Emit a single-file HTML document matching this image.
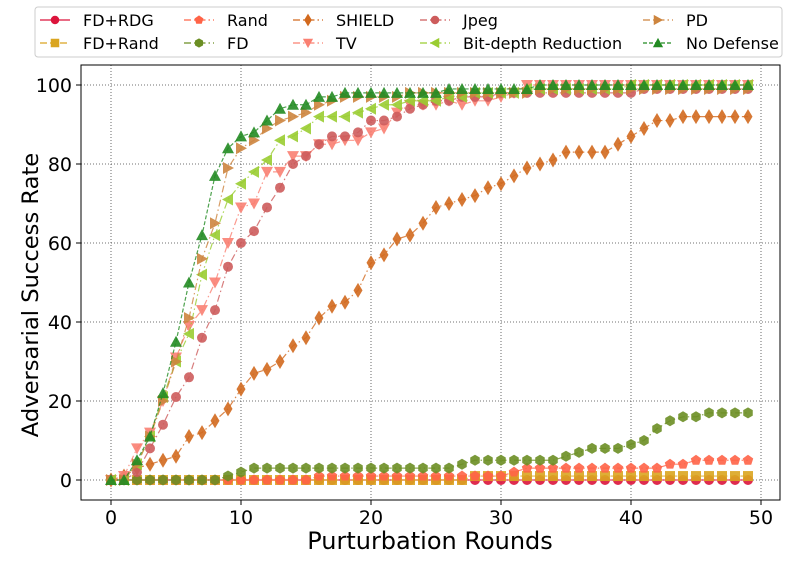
<!DOCTYPE html>
<html><head><meta charset="utf-8"><style>
body{margin:0;background:#fff;font-family:"Liberation Sans","DejaVu Sans",sans-serif}
svg text{font-family:"DejaVu Sans","Liberation Sans",sans-serif}
</style></head><body>
<svg id="chart" width="786" height="561" xmlns="http://www.w3.org/2000/svg"></svg>
<script>
const rounds = Array.from({length:50},(_,i)=>i);
const xTicks = [0,10,20,30,40,50];
const yTicks = [0,20,40,60,80,100];
const fdRdg = [0,0,0,0,0,0,0,0,0,0,0,0,0,0,0,0,0,0,0,0,0,0,0,0,0,0,0,0,0,0,0,0,0,0,0,0,0,0,0,0,0,0,0,0,0,0,0,0,0,0];
const fdRand = [0,0,0,0,0,0,0,0,0,0,0,0,0,0,0,0,0,0,0,0,0,0,0,0,0,0,0,0,1,1,1,1,1,1,1,1,1,1,1,1,1,1,1,1,1,1,1,1,1,1];
const rand = [0,0,0,0,0,0,0,0,0,0,0,0,0,0,0,0,1,1,1,1,1,1,1,1,1,1,1,1,1,1,1,2,3,3,3,3,3,3,3,3,3,3,3,4,4,5,5,5,5,5];
const fd = [0,0,0,0,0,0,0,0,0,1,2,3,3,3,3,3,3,3,3,3,3,3,3,3,3,3,3,4,5,5,5,5,5,5,5,6,7,8,8,8,9,10,13,15,16,16,17,17,17,17];
const shield = [0,1,3,4,5,6,11,12,15,18,23,27,28,30,34,36,41,44,45,48,55,57,61,62,65,69,70,71,72,74,75,77,79,80,81,83,83,83,83,85,87,89,91,91,92,92,92,92,92,92];
const tv = [0,1,8,12,20,31,39,43,50,60,69,70,78,78,82,82,85,85,86,86,88,89,93,95,95,95,96,95,96,96,97,98,100,100,100,100,100,100,100,100,100,100,100,100,100,100,100,100,100,100];
const jpeg = [0,0,2,8,14,21,26,36,43,54,60,63,69,74,80,82,85,87,87,88,91,91,92,94,95,96,96,97,97,97,98,98,98,98,98,98,98,98,98,98,98,99,99,99,99,99,99,99,99,99];
const bitDepth = [0,0,4,11,21,30,37,52,62,71,75,78,81,86,87,89,92,92,92,93,94,95,95,96,96,96,97,97,98,98,98,98,99,99,99,99,99,99,99,99,100,100,100,100,100,100,100,100,100,100];
const pd = [0,0,4,11,20,30,41,56,65,79,84,86,89,91,92,93,95,96,97,97,97,97,97,98,98,98,98,98,98,98,98,98,98,99,99,99,99,99,99,99,99,99,99,99,99,99,99,99,99,99];
const noDef = [0,0,5,11,22,35,50,62,77,84,87,88,91,94,95,95,97,97,98,98,98,98,98,98,98,98,99,99,99,99,99,99,99,100,100,100,100,100,100,100,100,100,100,100,100,100,100,100,100,100];
const seriesNames = ["FD+RDG","FD+Rand","Rand","FD","SHIELD","TV","Jpeg","Bit-depth Reduction","PD","No Defense"];
const seriesData = [fdRdg,fdRand,rand,fd,shield,tv,jpeg,bitDepth,pd,noDef];

const NS="http://www.w3.org/2000/svg";
const svg=document.getElementById('chart');
const L=81,R=780,T=65,B=500;
const xs=v=>111+v*13;
const ys=v=>480-v*3.95;
function el(t,a,p){const e=document.createElementNS(NS,t);for(const k in a)e.setAttribute(k,a[k]);(p||svg).appendChild(e);return e;}
const styles=[
 {c:"#dc143c",m:"circle",d:""},
 {c:"#daa520",m:"square",d:"7,3"},
 {c:"#ff6347",m:"pent",d:"7,3,1.5,3"},
 {c:"#6b8e23",m:"hex",d:"7,3,1.5,3"},
 {c:"#d2691e",m:"diamond",d:"7,3,1.5,3"},
 {c:"#fa8072",m:"tdown",d:"7,3,1.5,3"},
 {c:"#cd5c5c",m:"circle",d:"7,3,1.5,3"},
 {c:"#9acd32",m:"tleft",d:"7,3,1.5,3"},
 {c:"#cd853f",m:"tright",d:"7,3,1.5,3"},
 {c:"#228b22",m:"tup",d:"4,2"}];
function marker(g,type,x,y,c,s){
 s=s||1;let e;
 if(type==="circle")e=el('circle',{cx:x,cy:y,r:5*s},g);
 else if(type==="square")e=el('rect',{x:x-5*s,y:y-5*s,width:10*s,height:10*s},g);
 else{let pts;
  const poly=(n,r,rot)=>Array.from({length:n},(_,i)=>{const a=rot+i*2*Math.PI/n;return [x+r*Math.cos(a),y+r*Math.sin(a)];});
  if(type==="pent")pts=poly(5,5.5*s,-Math.PI/2);
  else if(type==="hex")pts=poly(6,5.5*s,-Math.PI/2);
  else if(type==="diamond")pts=[[x,y-7.5*s],[x+4.5*s,y],[x,y+7.5*s],[x-4.5*s,y]];
  else if(type==="tup")pts=[[x,y-6*s],[x+6*s,y+5*s],[x-6*s,y+5*s]];
  else if(type==="tdown")pts=[[x,y+6*s],[x+6*s,y-5*s],[x-6*s,y-5*s]];
  else if(type==="tleft")pts=[[x-6*s,y],[x+5*s,y-6*s],[x+5*s,y+6*s]];
  else pts=[[x+6*s,y],[x-5*s,y-6*s],[x-5*s,y+6*s]];
  e=el('polygon',{points:pts.map(p=>p.join(',')).join(' ')},g);}
 e.setAttribute('fill',c);
 return e;}

const grid=el('g',{});


xTicks.forEach(t=>{el('line',{x1:xs(t),x2:xs(t),y1:T,y2:B,stroke:'#444','stroke-width':0.8,'stroke-dasharray':'1,2'},grid);});
yTicks.forEach(t=>{el('line',{x1:L,x2:R,y1:ys(t),y2:ys(t),stroke:'#444','stroke-width':0.8,'stroke-dasharray':'1,2'},grid);});

seriesData.forEach((d,si)=>{
 const st=styles[si];
 const g=el('g',{});
 
 
 const pts=d.map((v,i)=>xs(rounds[i])+','+ys(v)).join(' ');
 const pl=el('polyline',{points:pts,fill:'none',stroke:st.c,'stroke-width':1.2,'stroke-opacity':0.8},g);
 if(st.d)pl.setAttribute('stroke-dasharray',st.d);
 d.forEach((v,i)=>{const m=marker(g,st.m,xs(rounds[i]),ys(v),st.c);m.setAttribute('fill-opacity',0.9);});
});

const fr=el('rect',{x:L,y:T,width:R-L,height:B-T,fill:'none',stroke:'#000','stroke-width':1});


xTicks.forEach(t=>{el('line',{x1:xs(t),x2:xs(t),y1:B,y2:B+5,stroke:'#000'});
 const tx=el('text',{x:xs(t),y:B+24,'text-anchor':'middle','font-size':19});tx.textContent=t;
 
 });
yTicks.forEach(t=>{el('line',{x1:L-5,x2:L,y1:ys(t),y2:ys(t),stroke:'#000'});
 const tx=el('text',{x:L-9,y:ys(t)+7,'text-anchor':'end','font-size':19});tx.textContent=t;
 
 });
const xl=el('text',{x:430,y:549,'text-anchor':'middle','font-size':24});xl.textContent='Purturbation Rounds';


const yl=el('text',{x:0,y:0,'text-anchor':'middle','font-size':22.6,transform:'translate(38,295) rotate(-90)'});yl.textContent='Adversarial Success Rate';



const lg=el('g',{});


el('rect',{x:35,y:7,width:747,height:50,rx:3,fill:'#fff',stroke:'#ccc'},lg);
const colX=[40,184,293,420,643];
const order=[[0,1],[2,3],[4,5],[6,7],[8,9]];
order.forEach((pair,ci)=>pair.forEach((si,ri)=>{
 const y=ri?43:20, x=colX[ci], st=styles[si];
 const e=el('g',{},lg);
 
 
 const ln=el('line',{x1:x,x2:x+30,y1:y,y2:y,stroke:st.c,'stroke-width':1.2},e);
 if(st.d)ln.setAttribute('stroke-dasharray',st.d);
 marker(e,st.m,x+15,y,st.c,0.85);
 const t=el('text',{x:x+43,y:y+6,'font-size':16},e);t.textContent=seriesNames[si];
}));
</script>
</body></html>
